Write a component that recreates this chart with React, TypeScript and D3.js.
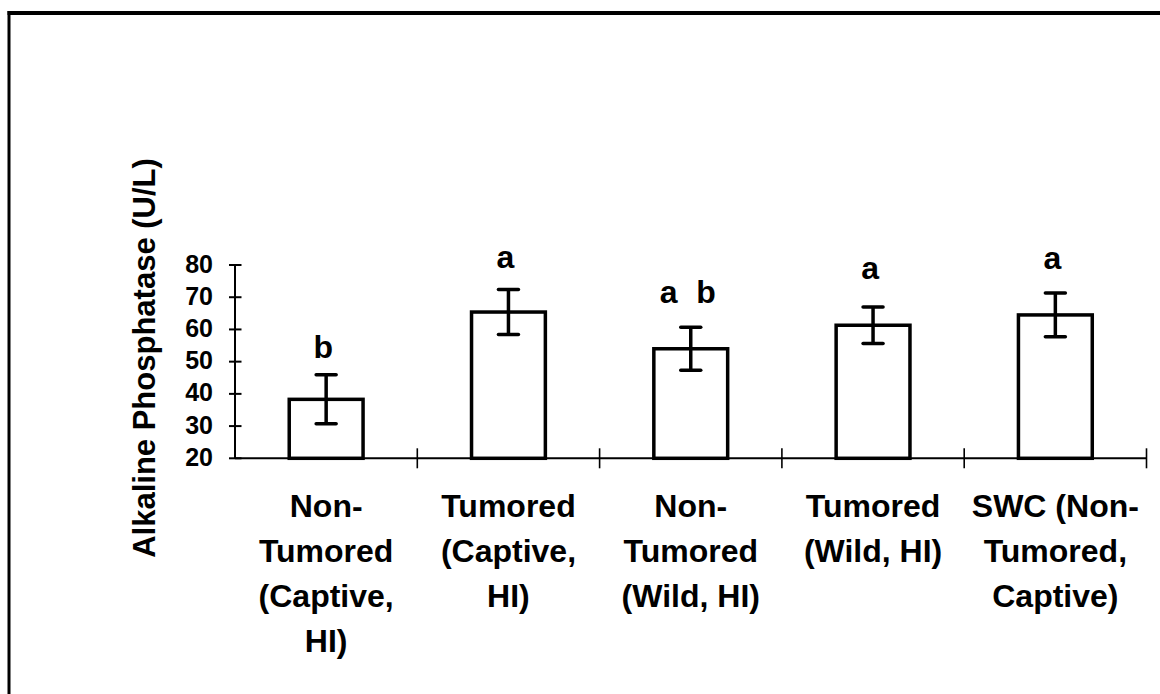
import React from "react";
import * as d3 from "d3";

// Group labels (one array of lines per group)
const groups: string[][] = [
  ["Non-", "Tumored", "(Captive,", "HI)"],
  ["Tumored", "(Captive,", "HI)"],
  ["Non-", "Tumored", "(Wild, HI)"],
  ["Tumored", "(Wild, HI)"],
  ["SWC (Non-", "Tumored,", "Captive)"],
];

// Mean alkaline phosphatase (U/L) and error per group
const means = [38.3, 65.4, 54.0, 61.3, 64.5];
const errors = [7.6, 7.0, 6.7, 5.7, 6.8];

// Significance letters and the value at which each is written
const letters = ["b", "a", "a b", "a", "a"];
const letterAt = [51.1, 79.1, 68.3, 75.7, 78.7];

const yTicks = [20, 30, 40, 50, 60, 70, 80];
const yTitle = "Alkaline Phosphatase (U/L)";

const W = 1160;
const H = 694;
const FONT = "'Liberation Sans', Arial, Helvetica, sans-serif";

export default function App() {
  const x = d3
    .scaleBand<number>()
    .domain(d3.range(groups.length))
    .range([235, 1146.5])
    .padding(0);
  const y = d3.scaleLinear().domain([20, 80]).range([458.3, 265]);
  const barW = x.bandwidth() * 0.405;
  const boundaries = d3.range(groups.length + 1).map((i) => 235 + i * x.bandwidth());

  return (
    <svg
      width={W}
      height={H}
      style={{ position: "absolute", left: 0, top: 0, background: "#fff" }}
      fontFamily={FONT}
    >
      <rect width={W} height={H} fill="#fff" />
      {/* outer frame */}
      <line x1={9} y1={11} x2={9} y2={H + 5} stroke="#000" strokeWidth={3} />
      <line x1={7.5} y1={13} x2={W + 5} y2={13} stroke="#000" strokeWidth={4} />

      {/* y axis */}
      <line x1={235} y1={y(80)} x2={235} y2={y(20)} stroke="#000" strokeWidth={2} />
      {yTicks.map((t) => (
        <g key={t}>
          <line x1={229} x2={241.5} y1={y(t)} y2={y(t)} stroke="#000" strokeWidth={2} />
          <text
            x={213}
            y={y(t) - 1.5}
            textAnchor="end"
            dominantBaseline="central"
            fontSize={25}
            fontWeight="bold"
          >
            {t}
          </text>
        </g>
      ))}
      <text
        transform={`translate(155, 358) rotate(-90)`}
        textAnchor="middle"
        fontSize={31}
        fontWeight="bold"
      >
        {yTitle}
      </text>

      {/* x axis */}
      <line x1={235} x2={boundaries[boundaries.length - 1]} y1={y(20)} y2={y(20)} stroke="#000" strokeWidth={2} />
      {boundaries.slice(1).map((b, i) => (
        <line key={i} x1={b} x2={b} y1={y(20) - 10} y2={y(20) + 10} stroke="#000" strokeWidth={1.6} />
      ))}

      {/* bars with error bars and letters */}
      {means.map((m, i) => {
        const cx = (x(i) as number) + x.bandwidth() / 2;
        const hi = y(m + errors[i]);
        const lo = y(m - errors[i]);
        return (
          <g key={i}>
            <rect
              x={cx - barW / 2}
              y={y(m)}
              width={barW}
              height={y(20) - y(m)}
              fill="#fff"
              stroke="#000"
              strokeWidth={3.5}
            />
            <line x1={cx} x2={cx} y1={hi} y2={lo} stroke="#000" strokeWidth={3.5} />
            <line x1={cx - 10} x2={cx + 10} y1={hi} y2={hi} stroke="#000" strokeWidth={3.5} strokeLinecap="round" />
            <line x1={cx - 10} x2={cx + 10} y1={lo} y2={lo} stroke="#000" strokeWidth={3.5} strokeLinecap="round" />
            <text
              x={cx - 3}
              y={y(letterAt[i])}
              textAnchor="middle"
              fontSize={32}
              fontWeight="bold"
              wordSpacing={10}
            >
              {letters[i]}
            </text>
          </g>
        );
      })}

      {/* group labels */}
      {groups.map((lines, i) => {
        const cx = (x(i) as number) + x.bandwidth() / 2;
        return (
          <text key={i} textAnchor="middle" fontSize={32} fontWeight="bold">
            {lines.map((ln, j) => (
              <tspan key={j} x={cx} y={517.3 + j * 44.8}>
                {ln}
              </tspan>
            ))}
          </text>
        );
      })}
    </svg>
  );
}
